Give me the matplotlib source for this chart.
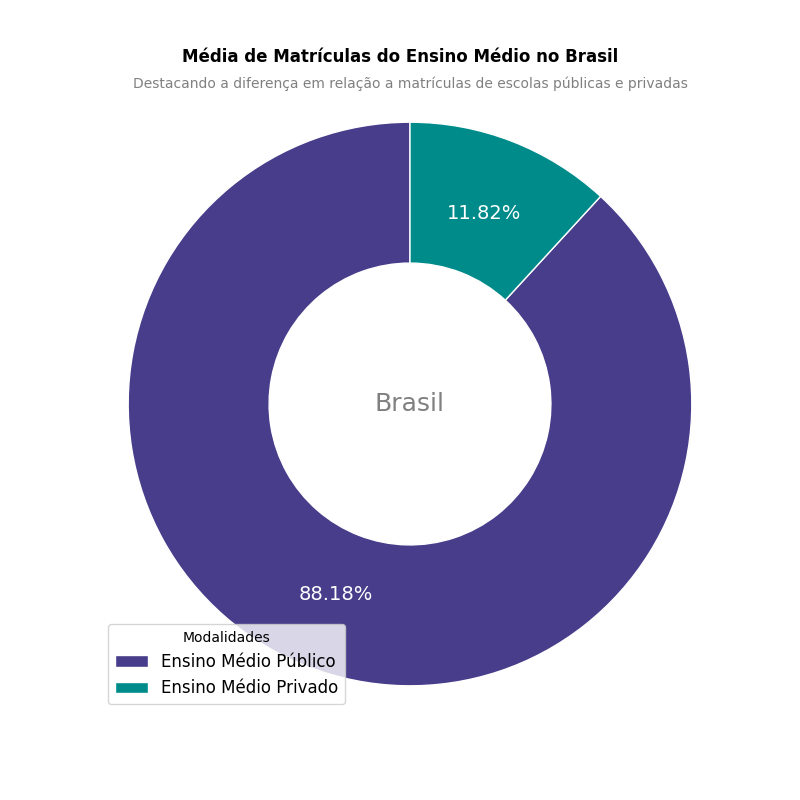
import matplotlib
matplotlib.use("Agg")
import matplotlib.pyplot as plt

categorias = ["Ensino Médio Público", "Ensino Médio Privado"]
valores = [88.18, 11.82]
cores = ["#483D8B", "#008B8B"]

fig, ax = plt.subplots(figsize=(8, 8), dpi=100)
wedges, texts, autotexts = ax.pie(
    valores, colors=cores, startangle=90, autopct="%1.2f%%",
    pctdistance=0.727, wedgeprops=dict(width=0.5, edgecolor="white"),
    textprops=dict(color="white", fontsize=14))
ax.axis("equal")
ax.text(0, 0, "Brasil", ha="center", va="center", fontsize=18, color="gray")

fig.text(0.5, 0.929, "Média de Matrículas do Ensino Médio no Brasil",
         ha="center", va="center", fontsize=12, fontweight="bold")
fig.text(0.5125, 0.895, "Destacando a diferença em relação a matrículas de escolas públicas e privadas",
         ha="center", va="center", fontsize=10, color="gray")

ax.legend(wedges, categorias, title="Modalidades", loc="lower left",
          bbox_to_anchor=(0.135, 0.12), bbox_transform=fig.transFigure,
          borderaxespad=0, fontsize=12, title_fontsize=10)

fig.savefig("out.png", dpi=100)
